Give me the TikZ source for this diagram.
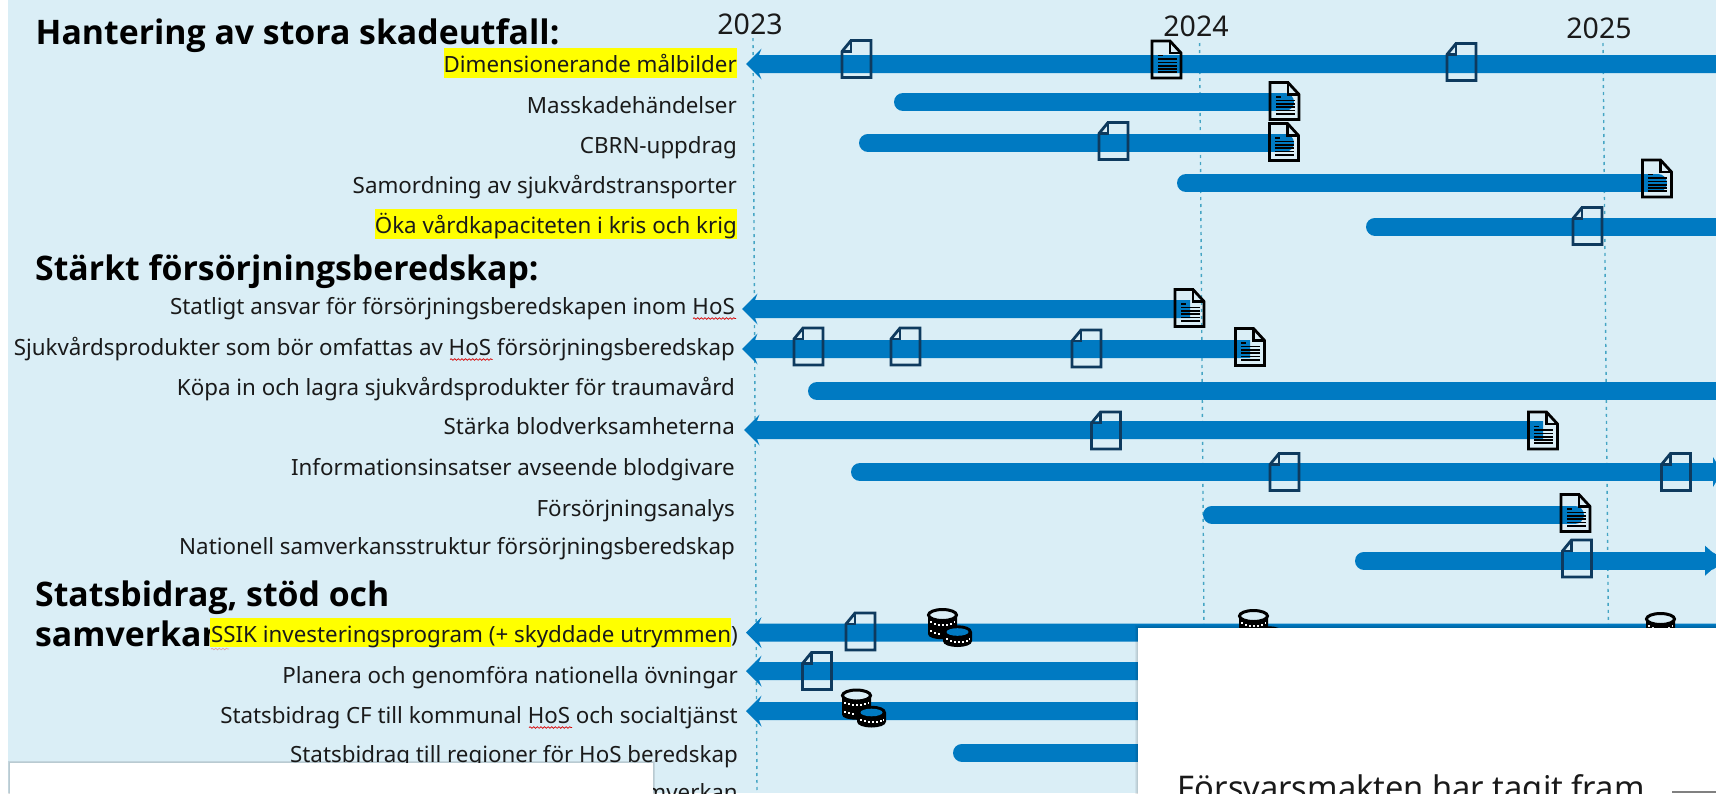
\documentclass[tikz,border=0pt]{standalone}
\usepackage{fontspec}
\setmainfont{Noto Sans}
\newfontfamily\headfam{Open Sans}
\usetikzlibrary{decorations.pathmorphing}
\definecolor{panelbg}{HTML}{DAEEF6}
\definecolor{barblue}{HTML}{007AC2}
\definecolor{gridteal}{HTML}{45A5C4}
\definecolor{docnavy}{HTML}{0E3A5E}
\definecolor{inktext}{HTML}{1A1A1A}
\definecolor{markyellow}{HTML}{FFFF00}
\newcommand{\labelfont}{\fontsize{22.35}{26}\selectfont}
\newcommand{\headfont}{\headfam\bfseries\fontsize{33.8}{40}\selectfont}
\newcommand{\yearfont}{\fontsize{28.5}{34}\selectfont}
\tikzset{
  x=1pt,y=-1pt,
  lab/.style={anchor=base east,inner sep=0pt,text=inktext,font=\labelfont},
  headtxt/.style={anchor=base west,inner sep=0pt,text=black,font=\headfont},
  yeartxt/.style={anchor=base,inner sep=0pt,text=inktext,font=\yearfont},
  gridline/.style={gridteal,line width=1.4pt,dash pattern=on 3pt off 4pt},
  barline/.style={barblue,line width=18pt,line cap=round},
  squig/.style={red!85!black,line width=.7pt,decorate,decoration={snake,amplitude=.8pt,segment length=3.6pt}},
  docempty/.pic={
    \draw[docnavy,line width=2.8pt,line join=miter] (9,0)--(29,0)--(29,37)--(0,37)--(0,11)--cycle;
    \draw[docnavy,line width=2.4pt] (9,0)--(9,11)--(0,11);
  },
  docfull/.pic={
    \draw[black,line width=2.8pt,line join=miter] (0,0)--(18,0)--(29,12)--(29,37)--(0,37)--cycle;
    \draw[black,line width=2.4pt] (18,0)--(18,12)--(29,12);
    \fill[black] (5.5,13.8) rectangle (10.5,15.4);
    \foreach \ly in {17.2,20.5,23.8,27.1,30.4}{\fill[black] (5.5,\ly) rectangle (24.5,\ly+1.7);}
  },
  coinpair/.pic={
    \fill[black] (1,7)--(1,26) .. controls (1,33) and (30,33) .. (30,26) -- (30,7) .. controls (30,15) and (1,15) .. (1,7) -- cycle;
    \draw[black,line width=3pt] (15.5,7) ellipse [x radius=14,y radius=5.5];
    \foreach \dx/\dy in {4/14,8/15.5,12/16.5,16/16.7,20/16.5,24/15.5,27.5/14,4/23,8/24.5,12/25.5}{\fill[white] (\dx-.8,\dy-.9) rectangle (\dx+.8,\dy+1);}
    \fill[black] (16,24)--(16,33) .. controls (16,41) and (45,41) .. (45,33) -- (45,24) .. controls (45,15) and (16,15) .. (16,24) -- cycle;
    \fill[barblue] (30.5,24) ellipse [x radius=11,y radius=3.8];
    \foreach \dx/\dy in {20/31,24/32.5,28/33.5,32/33.7,36/33.5,40/32.5,42.5/31}{\fill[white] (\dx-.8,\dy-.9) rectangle (\dx+.8,\dy+1);}
  },
}
\newcommand{\leftarrowbar}[3]{% tip x, right x, centre y
  \fill[barblue] (#1,#3) -- (#1+15.5,#3-15.5) -- (#1+13,#3-9) -- (#2,#3-9) -- (#2,#3+9) -- (#1+13,#3+9) -- (#1+15.5,#3+15.5) -- cycle;}
\begin{document}
\begin{tikzpicture}
\useasboundingbox (0,0) rectangle (1716,793);
\clip (0,0) rectangle (1716,793);
\fill[white] (0,0) rectangle (1716,793);
\fill[panelbg] (7.5,0) rectangle (1716,793);

% year grid
\coordinate (g23a) at (753,38); \coordinate (g23b) at (757,793);
\coordinate (g24a) at (1199.6,43); \coordinate (g24b) at (1204,630);
\coordinate (g25a) at (1603,43); \coordinate (g25b) at (1608.4,630);
\draw[gridline] (g23a)--(g23b);
\draw[gridline] (g24a)--(g24b);
\draw[gridline] (g25a)--(g25b);

\node[yeartxt] (y23) at (750,34.5) {2023};
\node[yeartxt] (y24) at (1196,36) {2024};
\node[yeartxt] (y25) at (1599,38.5) {2025};

% bars
\leftarrowbar{746}{1730}{64}
\draw[barline] (903,102)--(1285,102);
\draw[barline] (868,142.8)--(1285,142.8);
\draw[barline] (1186,183)--(1658,183);
\draw[barline] (1375,226.5)--(1730,226.5);
\leftarrowbar{742}{1190}{309}
\leftarrowbar{742}{1250}{349}
\draw[barline] (817,391)--(1730,391);
\leftarrowbar{744}{1543}{430}
\draw[barline] (860,472)--(1730,472);
\fill[barblue] (1713,457)--(1722,472)--(1713,487)--cycle;
\draw[barline] (1212,514.7)--(1575,514.7);
\draw[barline] (1364,560.7)--(1710,560.7);
\fill[barblue] (1705,545.7)--(1722,560.7)--(1705,575.7)--cycle;
\leftarrowbar{746}{1730}{632.5}
\leftarrowbar{746}{1730}{671}
\leftarrowbar{746}{1730}{711}
\draw[barline] (962,752.7)--(1730,752.7);

% documents
\pic at (842,40.5) {docempty};
\pic at (1447,43.5) {docempty};
\pic at (1099,122.5) {docempty};
\pic at (1573,207.5) {docempty};
\pic at (794,328) {docempty};
\pic at (891,328) {docempty};
\pic at (1072,330) {docempty};
\pic at (1091.5,412) {docempty};
\pic at (1270,453.5) {docempty};
\pic at (1661.5,453.5) {docempty};
\pic at (1562.5,540) {docempty};
\pic at (846,613) {docempty};
\pic at (802.5,652.5) {docempty};
\pic at (1152,41) {docfull};
\pic at (1270,82.5) {docfull};
\pic at (1269.5,123.5) {docfull};
\pic at (1642.5,160) {docfull};
\pic at (1175,289.5) {docfull};
\pic at (1235.5,328.5) {docfull};
\pic at (1528.5,412) {docfull};
\pic at (1561,494.5) {docfull};

% coins
\pic at (927,608) {coinpair};
\pic at (841,688.5) {coinpair};
\pic at (1238,609) {coinpair};
\pic at (1645,612) {coinpair};

% headings
\node[headtxt] (h1) at (35.5,44) {Hantering av stora skadeutfall:};
\node[headtxt] (h2) at (35,280) {Stärkt försörjningsberedskap:};
\node[headtxt] (h3) at (35,606) {Statsbidrag, stöd och};
\node[headtxt] (h4) at (35,646.7) {samverkan};

% highlights
\fill[markyellow] (444,48.3) rectangle (737,78.3);
\fill[markyellow] (375,209.3) rectangle (737,239);
\fill[markyellow] (210,617.7) rectangle (731,647);

% labels
\node[lab] (l1) at (737,72.7) {Dimensionerande målbilder};
\node[lab] (l2) at (737,113.7) {Masskadehändelser};
\node[lab] (l3) at (737,153.7) {CBRN-uppdrag};
\node[lab] (l4) at (737,193.4) {Samordning av sjukvårdstransporter};
\node[lab] (l5) at (737,233.7) {Öka vårdkapaciteten i kris och krig};
\node[lab] (l6) at (735,314.7) {Statligt ansvar för försörjningsberedskapen inom HoS};
\node[lab] (l7) at (735,355.7) {Sjukvårdsprodukter som bör omfattas av HoS försörjningsberedskap};
\node[lab] (l8) at (735,395.7) {Köpa in och lagra sjukvårdsprodukter för traumavård};
\node[lab] (l9) at (735,434.7) {Stärka blodverksamheterna};
\node[lab] (l10) at (735,475.7) {Informationsinsatser avseende blodgivare};
\node[lab] (l11) at (735,516.4) {Försörjningsanalys};
\node[lab] (l12) at (735,554.7) {Nationell samverkansstruktur försörjningsberedskap};
\node[lab] (l13) at (738,642.7) {SSIK investeringsprogram (+ skyddade utrymmen)};
\node[lab] (l14) at (738,683.4) {Planera och genomföra nationella övningar};
\node[lab] (l15) at (738,723.7) {Statsbidrag CF till kommunal HoS och socialtjänst};
\node[lab] (l16) at (738,762.4) {Statsbidrag till regioner för HoS beredskap};
\node[lab] (l17) at (738,800.7) {samverkan};

% spelling squiggles
\draw[squig] (693,318.5)--(736,318.5);
\draw[squig] (450,359.5)--(492.6,359.5);
\draw[squig] (529,727.5)--(572,727.5);
\draw[squig,opacity=.3] (211,649)--(229,649);

% overlaid white panels with soft shadows
\foreach \s in {2.4,1.6,.8}{
  \fill[black,opacity=.05] (10-\s,763-\s) rectangle (653+\s,800);
  \fill[black,opacity=.05] (1137.5-\s,627.5-\s) rectangle (1730,800);
}
\fill[white] (10,763) rectangle (653,800);
\fill[white] (1137.5,627.5) rectangle (1730,800);
\node[anchor=base west,inner sep=0pt,text=inktext,font=\fontsize{32.6}{38}\selectfont] (fm) at (1177.7,799.5) {Försvarsmakten har tagit fram};
\fill[gray] (1671.8,790.7) rectangle (1716,793);
\end{tikzpicture}
\end{document}
